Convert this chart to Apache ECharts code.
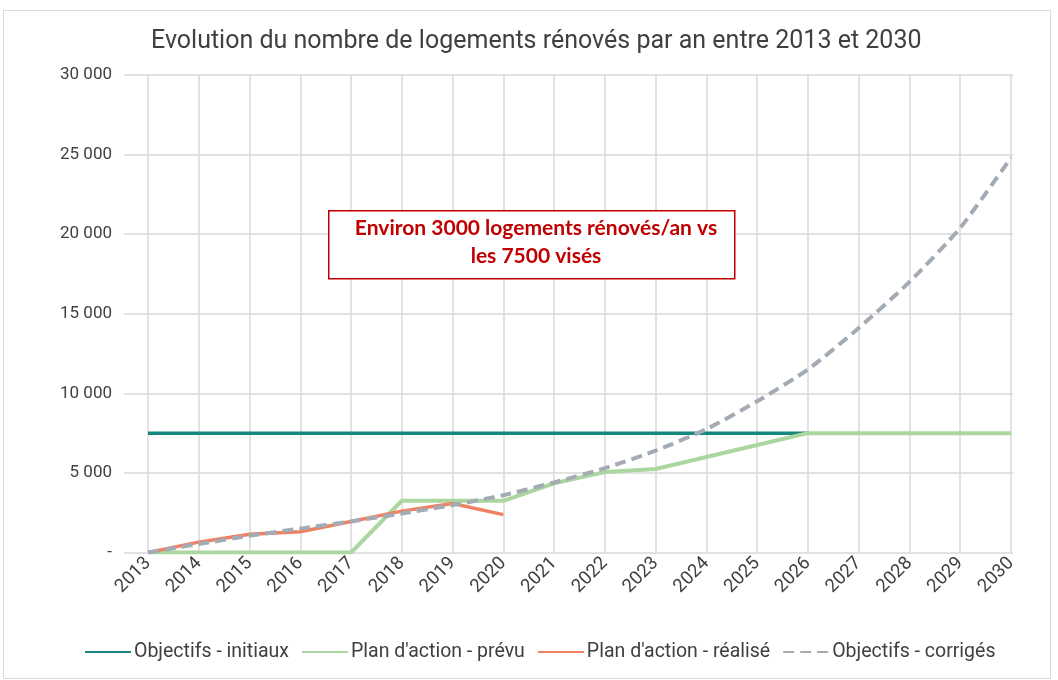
<!DOCTYPE html>
<html>
<head>
    <meta charset="utf-8">
    <title>ECharts</title>
    <script src="https://cdn.jsdelivr.net/npm/echarts@6/dist/echarts.min.js"></script>
</head>
<body style="margin:0;background:#fff;">
    <div id="main" style="width: 1058px;height:680px;"></div>

    <script type="text/javascript">

        var years = ['2013','2014','2015','2016','2017','2018','2019','2020','2021',
                     '2022','2023','2024','2025','2026','2027','2028','2029','2030'];

        // objectifs initiaux : 7500/an jusqu'en 2026
        var objectifsInitiaux = [7500,7500,7500,7500,7500,7500,7500,7500,7500,
                                 7500,7500,7500,7500,7500,null,null,null,null];
        var planPrevu = [0,0,0,0,0,3250,3250,3250,4350,
                         5050,5250,6000,6750,7500,7500,7500,7500,7500];
        var planRealise = [0,650,1150,1300,1950,2600,3080,2380,null,
                           null,null,null,null,null,null,null,null,null];
        var objectifsCorriges = [0,530,1050,1500,1950,2450,2980,3600,4400,
                                 5300,6400,7750,9500,11500,14100,17000,20400,24800];

        var yTicks = { min: 0, max: 30000, step: 5000 };

        var myChart = echarts.init(document.getElementById('main'));

        function fmt(v) {
            if (v === 0) return '-';
            return String(v).replace(/\B(?=(\d{3})+(?!\d))/g, ' ');
        }

        var font = 'Roboto';

        option = {
            backgroundColor: '#fff',
            animation: false,
            title: {
                text: 'Evolution du nombre de logements rénovés par an entre 2013 et 2030',
                left: 146,
                top: 24,
                textStyle: { fontFamily: font, fontSize: 25, fontWeight: 'normal', color: '#404040' }
            },
            legend: {
                bottom: 13,
                left: 79,
                itemWidth: 46,
                itemHeight: 10,
                itemGap: 12,
                itemStyle: { opacity: 0 },
                textStyle: { fontFamily: font, fontSize: 19.5, color: '#404040', padding: [0, 0, 0, -2] },
                data: ['Objectifs - initiaux', "Plan d'action - prévu", "Plan d'action - réalisé", 'Objectifs - corrigés']
            },
            grid: [
                { left: 124, right: 45, top: 75, bottom: 127.5 },
                { left: 148, right: 47, top: 75, bottom: 127.5 }
            ],
            xAxis: [
                { type: 'value', gridIndex: 0, show: false, min: 0, max: 1 },
                {
                    type: 'category', gridIndex: 1, data: years, boundaryGap: false,
                    axisLine: { show: false }, axisTick: { show: false },
                    axisLabel: { rotate: 45, fontFamily: font, fontSize: 18.5, color: '#404040', margin: 8, interval: 0 },
                    splitLine: { show: true, interval: 0, lineStyle: { color: '#d9d9d9', width: 1.5 } }
                }
            ],
            yAxis: [
                {
                    type: 'value', gridIndex: 0, min: yTicks.min, max: yTicks.max, interval: yTicks.step,
                    axisLine: { show: false }, axisTick: { show: false },
                    axisLabel: { fontFamily: font, fontSize: 17, color: '#404040', margin: 12, formatter: fmt },
                    splitLine: { lineStyle: { color: '#d9d9d9', width: 1.5 } }
                },
                {
                    type: 'value', gridIndex: 1, min: yTicks.min, max: yTicks.max, interval: yTicks.step,
                    show: false, splitLine: { show: false }
                }
            ],
            graphic: [
                {
                    type: 'rect', left: 1, top: 8, z: -1,
                    shape: { width: 1047, height: 668 },
                    style: { fill: 'none', stroke: '#d9d9d9', lineWidth: 1 }
                },
                {
                    type: 'rect', left: 328, top: 210, z: 10,
                    shape: { width: 406, height: 68 },
                    style: { fill: '#fff', stroke: '#c00000', lineWidth: 1.5 }
                },
                {
                    type: 'text', x: 536, y: 214, z: 11,
                    style: {
                        text: 'Environ 3000 logements rénovés/an vs\nles 7500 visés',
                        fill: '#c00000', font: 'bold 21px Lato', align: 'center', lineHeight: 28
                    }
                }
            ],
            series: [
                {
                    name: 'Objectifs - initiaux', type: 'line', xAxisIndex: 1, yAxisIndex: 1,
                    data: objectifsInitiaux, symbol: 'none', z: 3,
                    lineStyle: { color: '#17877e', width: 3.5 }, itemStyle: { color: '#17877e' }
                },
                {
                    name: "Plan d'action - prévu", type: 'line', xAxisIndex: 1, yAxisIndex: 1,
                    data: planPrevu, symbol: 'none', z: 4,
                    lineStyle: { color: '#acd69f', width: 4 }, itemStyle: { color: '#acd69f' }
                },
                {
                    name: "Plan d'action - réalisé", type: 'line', xAxisIndex: 1, yAxisIndex: 1,
                    data: planRealise, symbol: 'none', z: 5,
                    lineStyle: { color: '#f08162', width: 3.5 }, itemStyle: { color: '#f08162' }
                },
                {
                    name: 'Objectifs - corrigés', type: 'line', xAxisIndex: 1, yAxisIndex: 1,
                    data: objectifsCorriges, symbol: 'none', z: 6, smooth: 0.2,
                    lineStyle: { color: '#a3abb5', width: 4, type: [11, 6] }, itemStyle: { color: '#a3abb5' }
                }
            ]
        };

        myChart.setOption(option);

    </script>
</body>
</html>
